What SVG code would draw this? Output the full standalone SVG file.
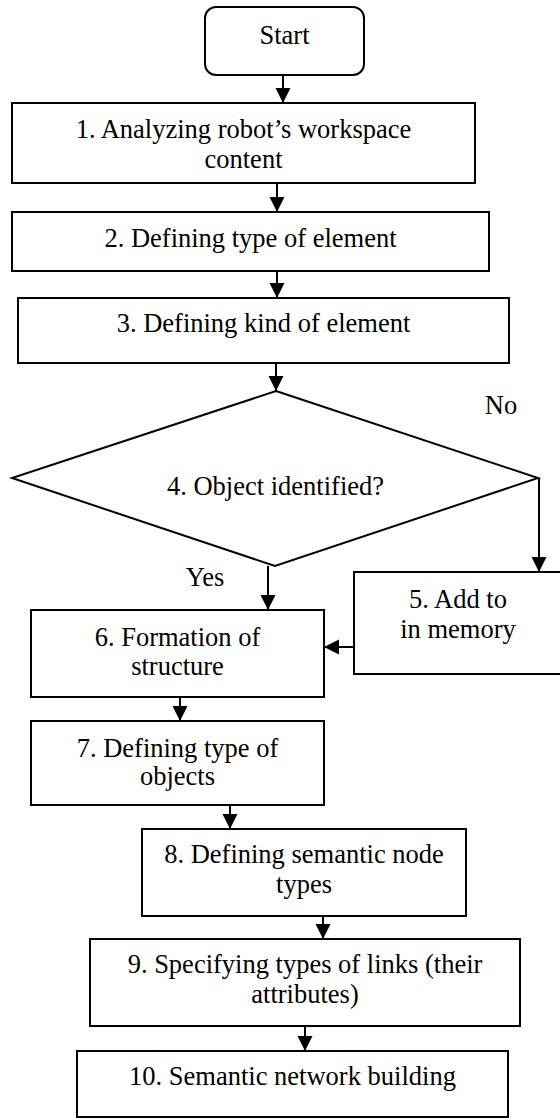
<svg xmlns="http://www.w3.org/2000/svg" width="560" height="1118" viewBox="0 0 560 1118">
<defs>
<style>
.box{fill:#fff;stroke:#000;stroke-width:2}
text{font-family:'Liberation Serif','Times New Roman',Times,serif;font-size:26.5px;fill:#000;text-anchor:middle}
.c{fill:none;stroke:#000;stroke-width:2}
</style>
<marker id="ah" markerUnits="userSpaceOnUse" markerWidth="16" markerHeight="16" viewBox="0 0 16 16" refX="15" refY="8" orient="auto">
<path d="M0,0.5 L15,8 L0,15.5 Z" fill="#000"/>
</marker>
</defs>
<rect width="560" height="1118" fill="#fff"/>
<g id="connectors">
<line class="c" x1="283" y1="75" x2="283" y2="103" marker-end="url(#ah)"/>
<line class="c" x1="277" y1="183" x2="277" y2="212" marker-end="url(#ah)"/>
<line class="c" x1="277" y1="271" x2="277" y2="298" marker-end="url(#ah)"/>
<line class="c" x1="276" y1="363" x2="276" y2="391" marker-end="url(#ah)"/>
<line class="c" x1="539" y1="478" x2="539" y2="572" marker-end="url(#ah)"/>
<line class="c" x1="268" y1="566" x2="268" y2="610" marker-end="url(#ah)"/>
<line class="c" x1="354" y1="647" x2="324" y2="647" marker-end="url(#ah)"/>
<line class="c" x1="180" y1="697" x2="180" y2="721" marker-end="url(#ah)"/>
<line class="c" x1="230" y1="805" x2="230" y2="829" marker-end="url(#ah)"/>
<line class="c" x1="323" y1="916" x2="323" y2="939" marker-end="url(#ah)"/>
<line class="c" x1="305" y1="1026" x2="305" y2="1051" marker-end="url(#ah)"/>
<text font-family="Liberation Serif, serif" x="501" y="414">No</text>
<text font-family="Liberation Serif, serif" x="205" y="586">Yes</text>
</g>
<g id="start" font-family="Liberation Serif, serif">
<rect class="box" x="205" y="7" width="159" height="68" rx="11"/>
<text x="284.5" y="44">Start</text>
</g>
<g id="n1">
<rect class="box" x="12" y="103" width="463" height="80"/>
<text x="243.5" y="138">1. Analyzing robot’s workspace</text>
<text x="243.5" y="168">content</text>
</g>
<g id="n2">
<rect class="box" x="12" y="212" width="477" height="59"/>
<text x="250.5" y="247">2. Defining type of element</text>
</g>
<g id="n3">
<rect class="box" x="18" y="298" width="491" height="65"/>
<text x="263.5" y="332">3. Defining kind of element</text>
</g>
<g id="n4">
<polygon class="box" points="276,391 538,478 275,566 12,478"/>
<text x="275.5" y="495">4. Object identified?</text>
</g>
<g id="n5">
<rect class="box" x="354" y="572" width="208" height="102"/>
<text x="458" y="608">5. Add to</text>
<text x="458" y="638">in memory</text>
</g>
<g id="n6">
<rect class="box" x="31" y="610" width="293" height="87"/>
<text x="177.5" y="646">6. Formation of</text>
<text x="177.5" y="675">structure</text>
</g>
<g id="n7">
<rect class="box" x="31" y="721" width="293" height="84"/>
<text x="177.5" y="757">7. Defining type of</text>
<text x="177.5" y="785">objects</text>
</g>
<g id="n8">
<rect class="box" x="142" y="829" width="324" height="87"/>
<text x="304" y="863">8. Defining semantic node</text>
<text x="304" y="893">types</text>
</g>
<g id="n9">
<rect class="box" x="90" y="939" width="430" height="87"/>
<text x="305" y="973">9. Specifying types of links (their</text>
<text x="305" y="1003">attributes)</text>
</g>
<g id="n10">
<rect class="box" x="77" y="1051" width="431" height="66"/>
<text x="292.5" y="1085">10. Semantic network building</text>
</g>
</svg>
